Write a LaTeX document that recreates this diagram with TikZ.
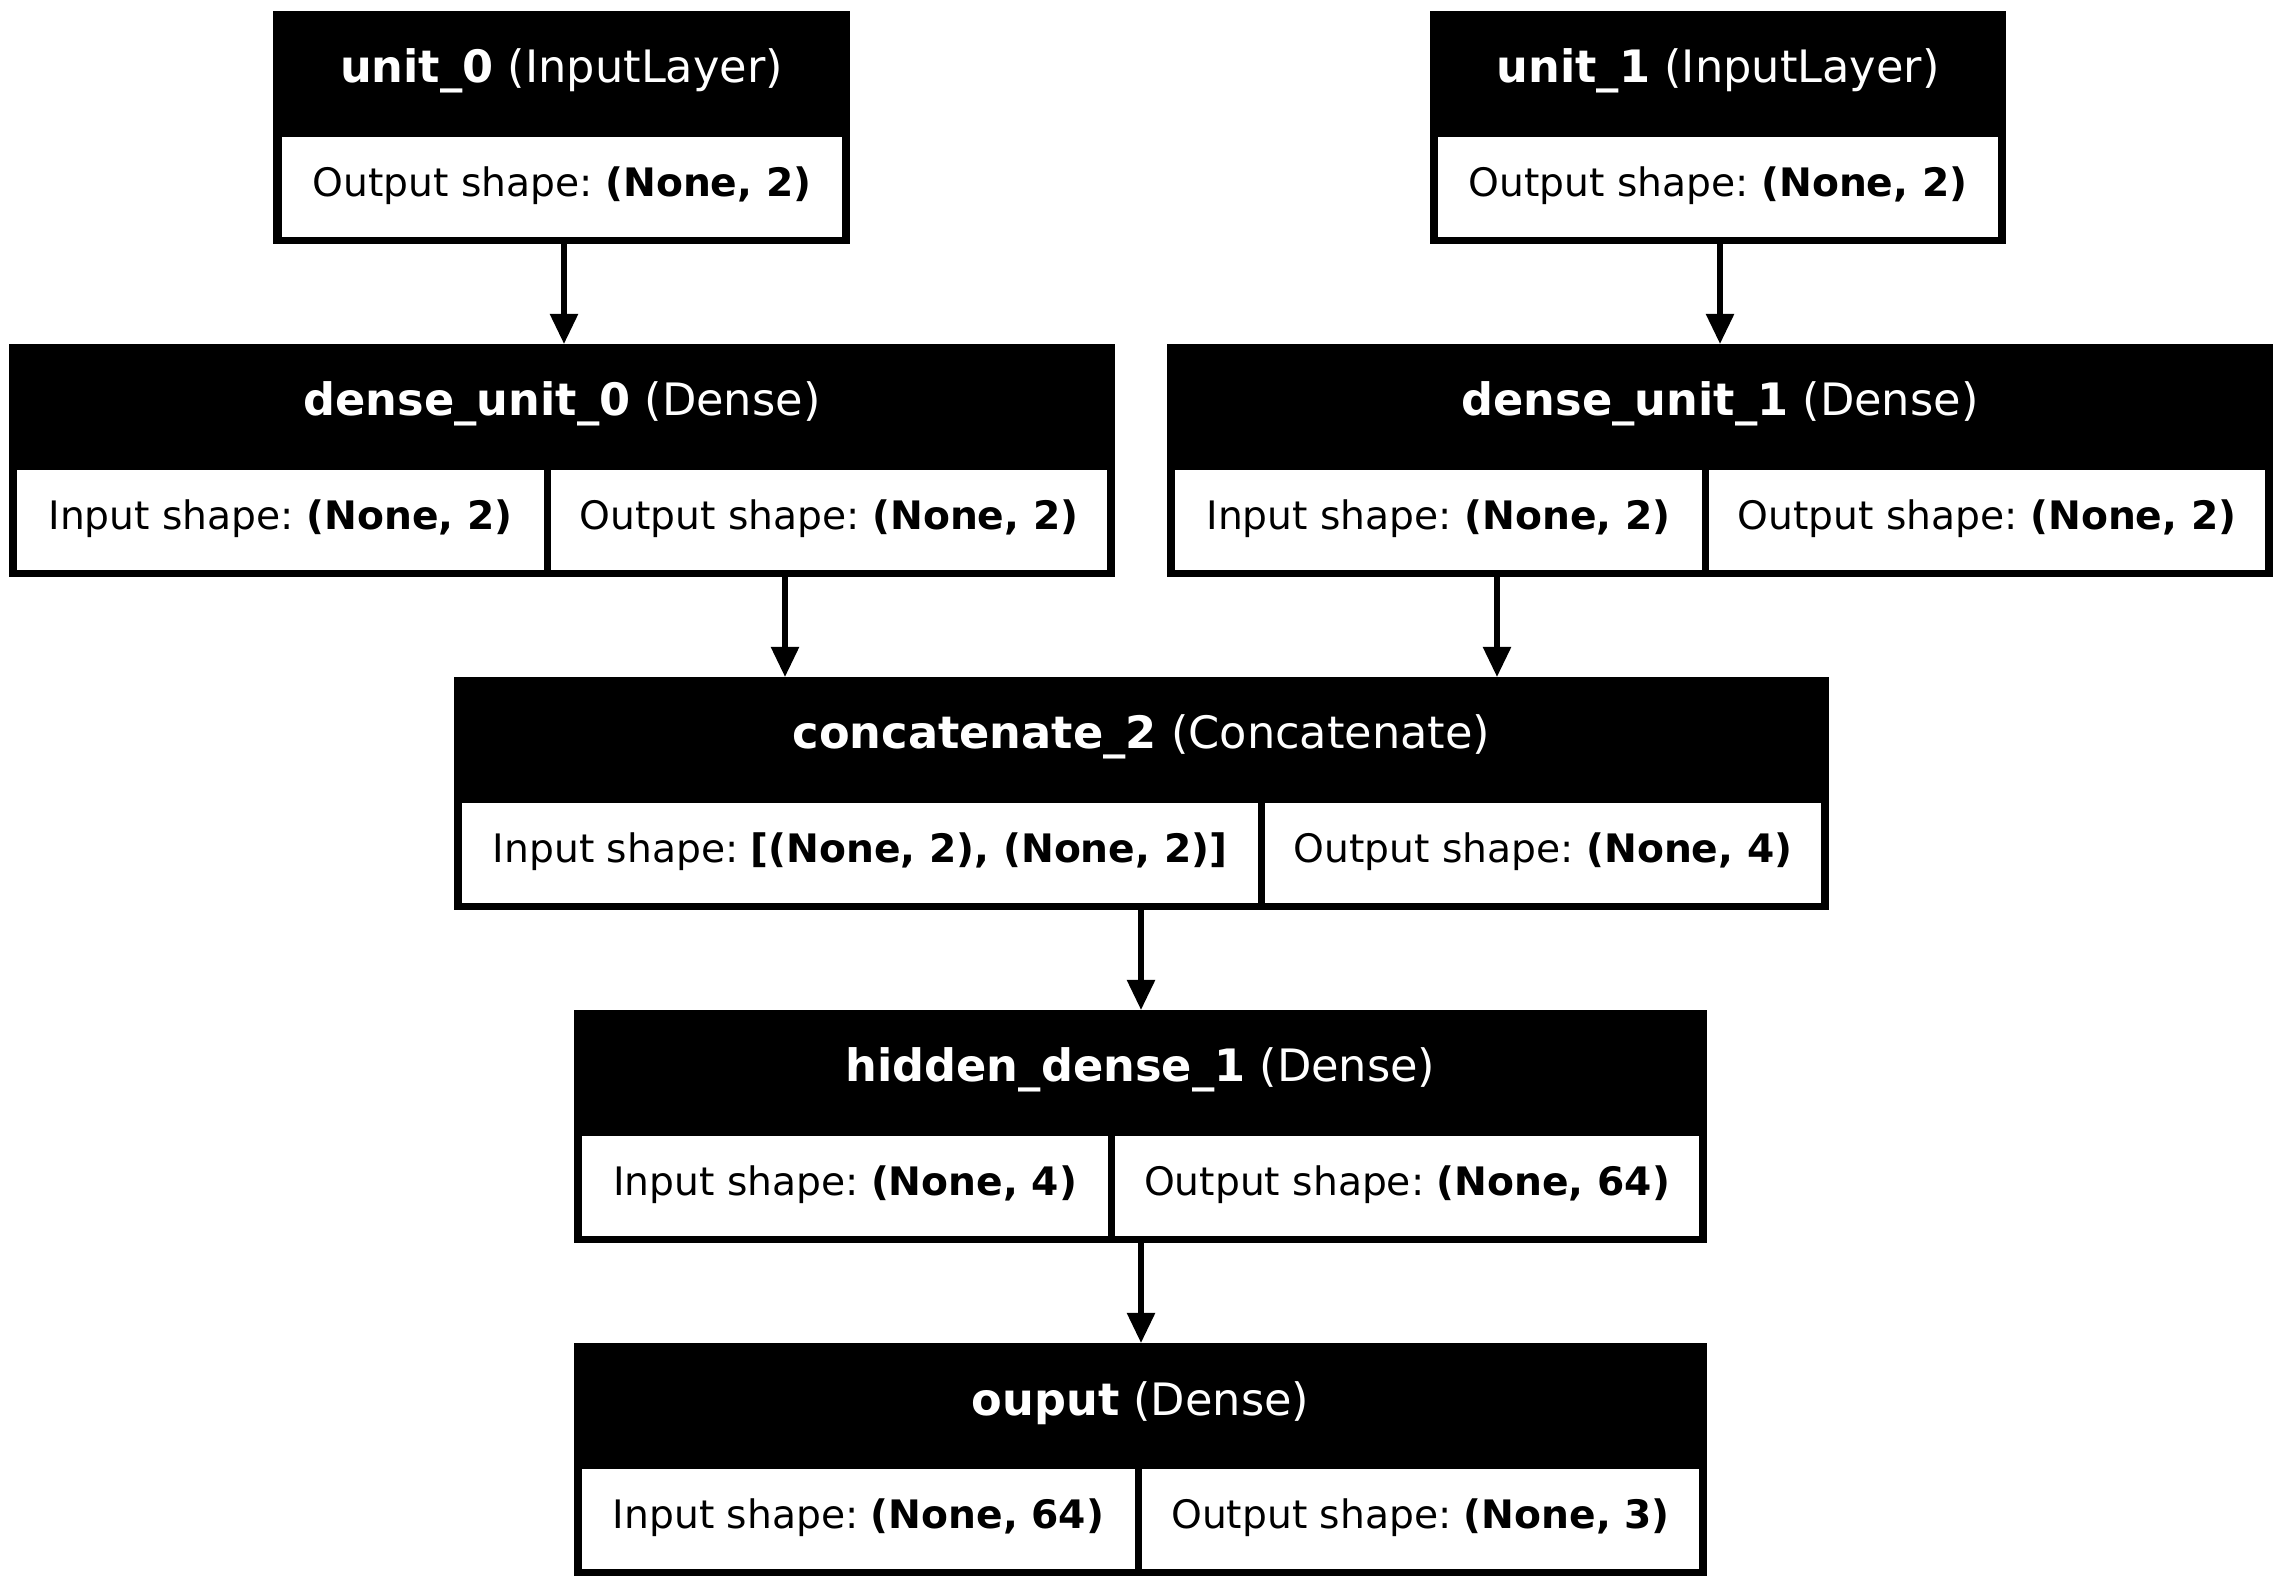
\documentclass[tikz,border=0pt]{standalone}
\usepackage{fontspec}
\setmainfont{DejaVu Sans}
\usetikzlibrary{fit,arrows.meta}
\begin{document}
\frenchspacing
\begin{tikzpicture}[x=0.01cm,y=-0.01cm,
  frame/.style={fill=black,inner sep=0pt,outer sep=0pt},
  cell/.style={fill=white,inner sep=0pt,outer sep=0pt},
  ctext/.style={inner sep=0pt,font=\fontsize{11.15}{13}\selectfont},
  head/.style={text=white,inner sep=0pt,font=\fontsize{12.7}{15}\selectfont},
  arr/.style={line width=0.055cm,-{Triangle[length=0.30cm,width=0.27cm]}}]
\useasboundingbox (0,0) rectangle (2283,1589);
% unit_0
\node[frame,fit={(273,11) (850,244)}] (u0) {};
\node[head] (u0h) at (561.5,71) {\textbf{unit\_0} (InputLayer)};
\node[cell,fit={(282,137) (842,237)}] (u0o) {};
\node[ctext] (u0ot) at ([yshift=0.5pt]u0o.center) {Output shape: \textbf{(None, 2)}};
% unit_1
\node[frame,fit={(1430,11) (2006,244)}] (u1) {};
\node[head] (u1h) at (1718,71) {\textbf{unit\_1} (InputLayer)};
\node[cell,fit={(1438,137) (1998,237)}] (u1o) {};
\node[ctext] (u1ot) at ([yshift=0.5pt]u1o.center) {Output shape: \textbf{(None, 2)}};
% dense_unit_0
\node[frame,fit={(9,344) (1115,577)}] (d0) {};
\node[head] (d0h) at (562,404) {\textbf{dense\_unit\_0} (Dense)};
\node[cell,fit={(17,470) (544,570)}] (d0i) {};
\node[ctext] (d0it) at ([yshift=0.5pt]d0i.center) {Input shape: \textbf{(None, 2)}};
\node[cell,fit={(551,470) (1107,570)}] (d0o) {};
\node[ctext] (d0ot) at ([yshift=0.5pt]d0o.center) {Output shape: \textbf{(None, 2)}};
% dense_unit_1
\node[frame,fit={(1167,344) (2273,577)}] (d1) {};
\node[head] (d1h) at (1720,404) {\textbf{dense\_unit\_1} (Dense)};
\node[cell,fit={(1175,470) (1702,570)}] (d1i) {};
\node[ctext] (d1it) at ([yshift=0.5pt]d1i.center) {Input shape: \textbf{(None, 2)}};
\node[cell,fit={(1709,470) (2265,570)}] (d1o) {};
\node[ctext] (d1ot) at ([yshift=0.5pt]d1o.center) {Output shape: \textbf{(None, 2)}};
% concatenate_2
\node[frame,fit={(454,677) (1829,910)}] (cc) {};
\node[head] (cch) at (1141.5,737) {\textbf{concatenate\_2} (Concatenate)};
\node[cell,fit={(462,803) (1258,903)}] (cci) {};
\node[ctext] (ccit) at ([yshift=0.5pt]cci.center) {Input shape: \textbf{[(None, 2), (None, 2)]}};
\node[cell,fit={(1265,803) (1821,903)}] (cco) {};
\node[ctext] (ccot) at ([yshift=0.5pt]cco.center) {Output shape: \textbf{(None, 4)}};
% hidden_dense_1
\node[frame,fit={(574,1010) (1707,1243)}] (hd) {};
\node[head] (hdh) at (1140.5,1070) {\textbf{hidden\_dense\_1} (Dense)};
\node[cell,fit={(582,1136) (1108,1236)}] (hdi) {};
\node[ctext] (hdit) at ([yshift=0.5pt]hdi.center) {Input shape: \textbf{(None, 4)}};
\node[cell,fit={(1115,1136) (1699,1236)}] (hdo) {};
\node[ctext] (hdot) at ([yshift=0.5pt]hdo.center) {Output shape: \textbf{(None, 64)}};
% ouput
\node[frame,fit={(574,1343) (1707,1576)}] (ou) {};
\node[head] (ouh) at (1140.5,1403) {\textbf{ouput} (Dense)};
\node[cell,fit={(582,1469) (1135,1569)}] (oui) {};
\node[ctext] (ouit) at ([yshift=0.5pt]oui.center) {Input shape: \textbf{(None, 64)}};
\node[cell,fit={(1142,1469) (1699,1569)}] (ouo) {};
\node[ctext] (ouot) at ([yshift=0.5pt]ouo.center) {Output shape: \textbf{(None, 3)}};
% arrows
\draw[arr] (u0.south -| 564,0) -- (d0.north -| 564,0);
\draw[arr] (u1.south -| 1720,0) -- (d1.north -| 1720,0);
\draw[arr] (d0.south -| 785,0) -- (cc.north -| 785,0);
\draw[arr] (d1.south -| 1497,0) -- (cc.north -| 1497,0);
\draw[arr] (cc.south -| 1141,0) -- (hd.north -| 1141,0);
\draw[arr] (hd.south -| 1141,0) -- (ou.north -| 1141,0);
\end{tikzpicture}
\end{document}
